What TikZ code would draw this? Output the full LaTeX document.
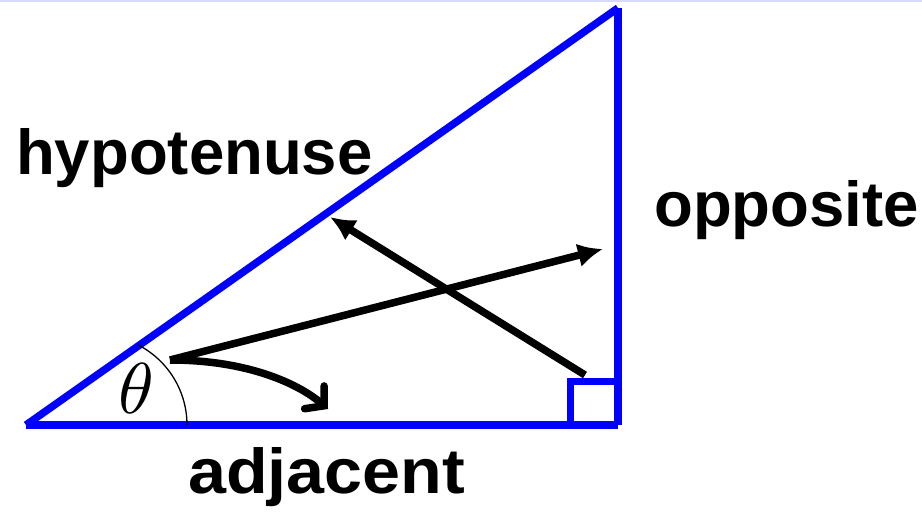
\documentclass[tikz,border=0pt]{standalone}
\usepackage{fontspec}
\newfontfamily\labelfont{Liberation Sans}
\usetikzlibrary{arrows.meta}

\begin{document}
\begin{tikzpicture}[x=1pt,y=-1pt,
      side/.style={draw=blue,line width=7.5pt},
      arr/.style={-{Latex[length=25pt,width=24pt]},line width=7.5pt},
      swing/.style={-{Straight Barb[length=13pt,width=30pt,line cap=round]},line width=7.5pt},
      lbl/.style={font=\labelfont\bfseries\fontsize{63.5}{70}\selectfont,inner sep=0pt,anchor=base west}
    ]
      \useasboundingbox (0,0) rectangle (922,515);
      \draw[blue!15,line width=1.5pt] (0,0.75) -- (922,0.75);
      % triangle corners
      \coordinate (A) at (26,425);
      \coordinate (B) at (618,425);
      \coordinate (C) at (618,8);
      \draw[side] (A) -- (B);
      \draw[side] (B) -- (C);
      \draw[side] (C) -- (A);
      \draw[side,line width=7pt] (570,425) |- (618,381);
      % angle mark
      \draw[line width=1.3pt] (187,425) arc[start angle=0,end angle=-63,radius=90];
      \node[inner sep=0pt,scale=7.2] (th) at (136,388) {$\theta$};
      % labels
      \node[lbl] (hyp) at (16,174) {hypotenuse};
      \node[lbl] (opp) at (654,226) {opposite};
      \node[lbl,xscale=1.075] (adj) at (188,493) {adjacent};
      % arrows
      \coordinate (eye) at (170,360);
      \coordinate (oppend) at (603,249);
      \coordinate (corner) at (585,375);
      \coordinate (hypend) at (330,217);
      \coordinate (adjend) at (328,409);
      \draw[arr] (eye) -- (oppend);
      \draw[arr] (corner) -- (hypend);
      \draw[swing] (eye) .. controls (250,360) and (300,385) .. (adjend);
    \end{tikzpicture}
\end{document}
